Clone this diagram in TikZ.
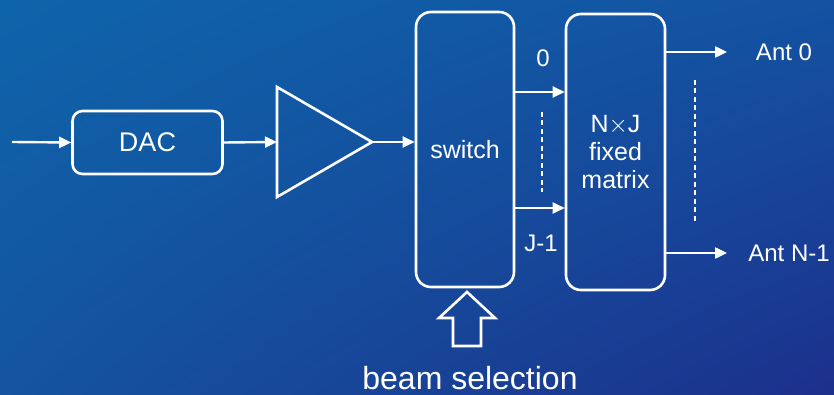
\documentclass[tikz,border=0pt]{standalone}
\usepackage{fontspec}
\setmainfont{Liberation Sans}
\usetikzlibrary{arrows.meta,shadings}
\definecolor{bgTL}{RGB}{14,100,170}
\definecolor{bgTR}{RGB}{20,82,162}
\definecolor{bgBL}{RGB}{20,84,160}
\definecolor{bgBR}{RGB}{28,48,140}
\tikzset{
  box/.style={draw=white, line width=2.6pt, rounded corners=10pt, text=white, inner sep=0pt, font=\fontsize{25}{30}\selectfont},
  tall/.style={box, rounded corners=15pt},
  arr/.style={draw=white, line width=2.4pt, -{Triangle[length=12pt,width=11pt]}},
  dashline/.style={draw=white, line width=2pt, dash pattern=on 5pt off 3.5pt},
  lbl/.style={text=white, inner sep=0pt, font=\fontsize{24}{29}\selectfont},
  outline/.style={draw=white, line width=2.6pt, line join=miter}
}
\begin{document}
\begin{tikzpicture}[x=1pt,y=-1pt]
\shade[upper left=bgTL, upper right=bgTR, lower left=bgBL, lower right=bgBR] (0,0) rectangle (834,395);
\useasboundingbox (0,0) rectangle (834,395);
% nodes
\coordinate (in) at (12,142);
\node[box, minimum width=150pt, minimum height=63pt, font=\fontsize{27}{32}\selectfont] (dac) at (147.5,142.5) {DAC};
\coordinate (ampL) at (277,142);
\coordinate (ampT) at (277,87);
\coordinate (ampB) at (277,197);
\coordinate (ampR) at (372,142);
\draw[outline] (ampT) -- (ampR) -- (ampB) -- cycle;
\node[tall, minimum width=98pt, minimum height=275pt] (switch) at (465,149.5) {switch};
\node[tall, minimum width=99pt, minimum height=276pt, align=center] (matrix) at (615.5,152)
  {N$\times$J\\[-2pt]fixed\\[-2pt]matrix};
% connectors
\draw[arr] (in) -- (dac.west);
\draw[arr] (dac.east) -- (ampL);
\draw[arr] (ampR) -- (ampR -| switch.west);
\coordinate (y0) at (0,92);
\coordinate (y1) at (0,208);
\draw[arr] (switch.east |- y0) -- (matrix.west |- y0);
\draw[arr] (switch.east |- y1) -- (matrix.west |- y1);
\node[lbl] (l0) at (543,58) {0};
\node[lbl] (lj) at (541,243) {J-1};
\coordinate (d1a) at (542,112);
\coordinate (d1b) at (542,192);
\draw[dashline] (d1a) -- (d1b);
\coordinate (o0) at (0,52);
\coordinate (o1) at (0,253);
\coordinate (e0) at (727,52);
\coordinate (e1) at (727,253);
\draw[arr] (matrix.east |- o0) -- (e0);
\draw[arr] (matrix.east |- o1) -- (e1);
\node[lbl] (ant0) at (784,52) {Ant 0};
\node[lbl] (antn) at (789,253) {Ant N-1};
\coordinate (d2a) at (695,80);
\coordinate (d2b) at (695,223);
\draw[dashline] (d2a) -- (d2b);
% block arrow
\draw[outline] (453,346) -- (481,346) -- (481,318) -- (495,318) -- (467,292) -- (439,318) -- (453,318) -- cycle;
\node[lbl, font=\fontsize{32}{38}\selectfont] (beam) at (470,378) {beam selection};
\end{tikzpicture}
\end{document}
